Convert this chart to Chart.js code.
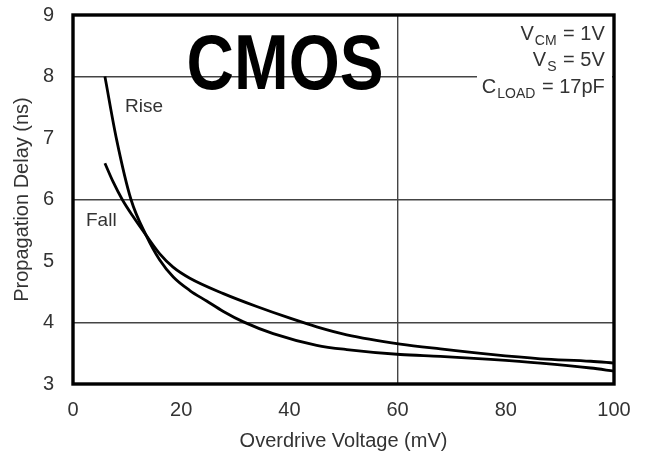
<!DOCTYPE html>
<html><head><meta charset="utf-8">
<script src="https://cdn.jsdelivr.net/npm/chart.js@4.4.1/dist/chart.umd.min.js"></script>
<style>html,body{margin:0;padding:0;background:#fff;}#c{display:block;}</style>
</head><body>
<canvas id="c" width="648" height="461" style="width:648px;height:461px"></canvas>
<script>
// ---- data ----
const xTicks = [0, 20, 40, 60, 80, 100];
const yTicks = [3, 4, 5, 6, 7, 8, 9];
const xGridAt = [60];
const yGridAt = [4, 6, 8];

const riseX = [5.9, 8.07, 10.72, 13.5, 16.0, 18.54, 21.6, 24.7, 27.8, 31.5, 37.0, 45.05, 50.6, 60.5, 67.9, 77.2, 86.4, 95.7, 100];
const riseY = [8.0, 6.97, 6.0, 5.42, 5.02, 4.74, 4.52, 4.35, 4.18, 4.01, 3.82, 3.63, 3.56, 3.48, 3.45, 3.40, 3.34, 3.26, 3.21];

const fallX = [5.9, 7.4, 9.1, 11.2, 13.5, 16.0, 18.5, 21.6, 27.8, 33.96, 40.1, 45.05, 50.6, 60.5, 67.9, 77.2, 86.4, 95.7, 100];
const fallY = [6.59, 6.29, 6.0, 5.71, 5.42, 5.12, 4.90, 4.72, 4.47, 4.26, 4.07, 3.93, 3.80, 3.65, 3.57, 3.48, 3.41, 3.37, 3.34];

const seriesNames = ['Rise', 'Fall'];
const chartTitle = 'CMOS';
const conditions = [['V', 'CM', ' = 1V'], ['V', 'S', ' = 5V'], ['C', 'LOAD', ' = 17pF']];
const xTitle = 'Overdrive Voltage (mV)';
const yTitle = 'Propagation Delay (ns)';

const FONT = "'Liberation Sans', Arial, sans-serif";
const TXT = '#333';

function pts(xs, ys) { return xs.map((x, i) => ({x: x, y: ys[i]})); }

const overlay = {
  id: 'overlay',
  afterDatasetsDraw(chart) {
    const {ctx, chartArea: a, scales: {x, y}} = chart;
    ctx.save();
    // condition block (white background hides grid line)
    ctx.fillStyle = '#fff';
    ctx.fillRect(477, a.top + 3, a.right - 2 - 477, 84);
    const rightEdge = x.getPixelForValue(98.3);
    const baselines = [40, 66, 93];
    conditions.forEach((c, i) => {
      const mainF = '20px ' + FONT, subF = '14px ' + FONT;
      ctx.font = mainF; const w1 = ctx.measureText(c[0]).width; const w3 = ctx.measureText(c[2]).width;
      ctx.font = subF; const w2 = ctx.measureText(c[1]).width;
      let px = rightEdge - (w1 + w2 + w3 + 2);
      ctx.fillStyle = TXT; ctx.textAlign = 'left'; ctx.textBaseline = 'alphabetic';
      ctx.font = mainF; ctx.fillText(c[0], px, baselines[i]);
      px += w1 + 1;
      ctx.font = subF; ctx.fillText(c[1], px, baselines[i] + 5);
      px += w2 + 1;
      ctx.font = mainF; ctx.fillText(c[2], px, baselines[i]);
    });
    // big title
    ctx.save();
    ctx.font = 'bold 77px ' + FONT;
    ctx.fillStyle = '#000';
    ctx.textBaseline = 'alphabetic';
    ctx.textAlign = 'left';
    const sx = 0.853;
    ctx.translate(x.getPixelForValue(21.0), 89);
    ctx.scale(sx, 1);
    ctx.fillText(chartTitle, 0, 0);
    ctx.restore();
    // curve labels
    ctx.font = '19px ' + FONT;
    ctx.fillStyle = TXT;
    ctx.textAlign = 'left';
    ctx.fillText(seriesNames[0], x.getPixelForValue(9.6), y.getPixelForValue(7.42));
    ctx.fillText(seriesNames[1], x.getPixelForValue(2.4), y.getPixelForValue(5.57));
    // frame
    ctx.strokeStyle = '#000';
    ctx.lineWidth = 3.4;
    ctx.strokeRect(a.left, a.top, a.right - a.left, a.bottom - a.top);
    ctx.restore();
  }
};

new Chart(document.getElementById('c'), {
  type: 'line',
  data: {
    datasets: [
      {label: seriesNames[0], data: pts(riseX, riseY), borderColor: '#000', borderWidth: 2.8, pointRadius: 0, cubicInterpolationMode: 'monotone', fill: false},
      {label: seriesNames[1], data: pts(fallX, fallY), borderColor: '#000', borderWidth: 2.8, pointRadius: 0, cubicInterpolationMode: 'monotone', fill: false}
    ]
  },
  options: {
    responsive: false,
    animation: false,
    events: [],
    layout: {padding: {top: 15, right: 34, left: 0, bottom: 0}},
    plugins: {legend: {display: false}, tooltip: {enabled: false}, title: {display: false}},
    scales: {
      x: {
        type: 'linear', min: 0, max: 100,
        afterBuildTicks: s => { s.ticks = xTicks.map(v => ({value: v})); },
        afterFit: s => { s.height = 77; },
        grid: {drawTicks: true, tickLength: 12, tickColor: 'rgba(0,0,0,0)', lineWidth: 1.4, color: c => (c.tick && xGridAt.includes(c.tick.value)) ? '#444' : 'rgba(0,0,0,0)'},
        border: {display: false},
        ticks: {padding: 2, color: TXT, font: {family: FONT, size: 20}},
        title: {display: true, text: xTitle, color: TXT, font: {family: FONT, size: 20}, padding: {top: 0, bottom: 8}}
      },
      y: {
        type: 'linear', min: 3, max: 9,
        afterBuildTicks: s => { s.ticks = yTicks.map(v => ({value: v})); },
        afterFit: s => { s.width = 73; },
        grid: {drawTicks: true, tickLength: 17, tickColor: 'rgba(0,0,0,0)', lineWidth: 1.4, color: c => (c.tick && yGridAt.includes(c.tick.value)) ? '#444' : 'rgba(0,0,0,0)'},
        border: {display: false},
        ticks: {padding: 2, color: TXT, font: {family: FONT, size: 20}},
        title: {display: true, text: yTitle, color: TXT, font: {family: FONT, size: 20}, padding: {top: 10, bottom: 0}}
      }
    }
  },
  plugins: [overlay]
});
</script>
</body></html>
